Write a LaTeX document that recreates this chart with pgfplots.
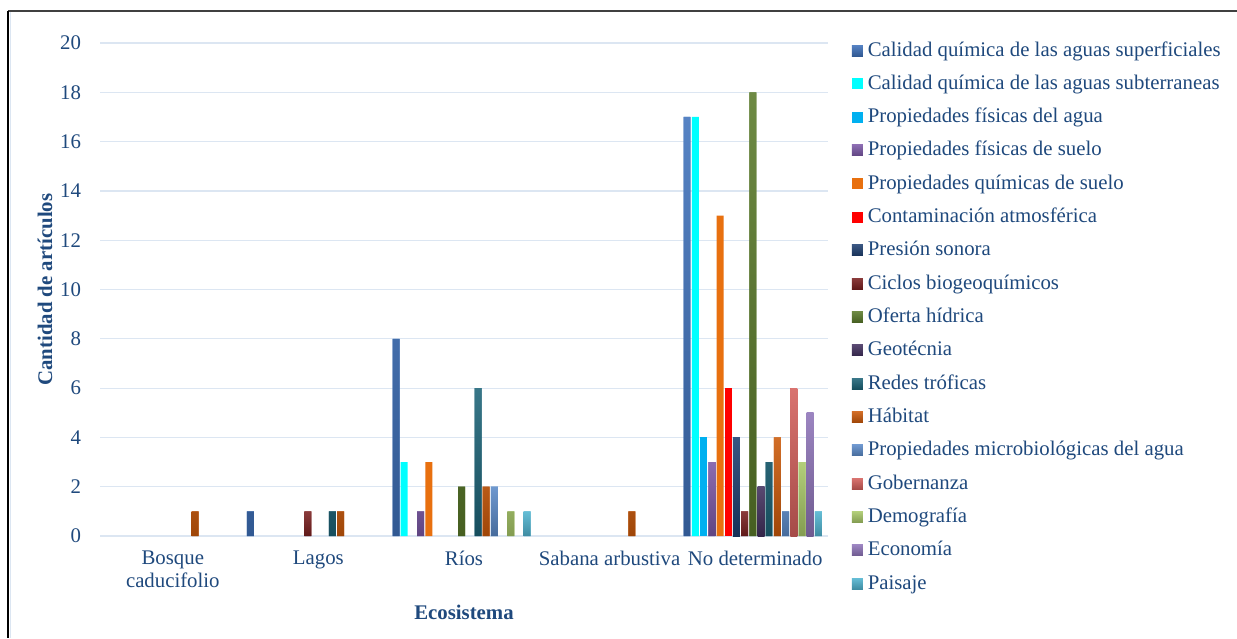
\documentclass[border=0pt]{standalone}
\usepackage{fontspec}
\setmainfont{Liberation Serif}
\usepackage{pgfplots}
\pgfplotsset{compat=1.18}

\definecolor{txt}{HTML}{1F497D}
\definecolor{gridc}{HTML}{DCE6F2}
\definecolor{c1}{HTML}{3F72BC}
\definecolor{c2}{HTML}{00FFFF}
\definecolor{c3}{HTML}{00B0F0}
\definecolor{c4}{HTML}{7B58A6}
\definecolor{c5}{HTML}{E8700F}
\definecolor{c6}{HTML}{FF0000}
\definecolor{c7}{HTML}{1E3F70}
\definecolor{c8}{HTML}{7A2020}
\definecolor{c9}{HTML}{5A7A2A}
\definecolor{c10}{HTML}{42305E}
\definecolor{c11}{HTML}{1D6478}
\definecolor{c12}{HTML}{CC5A0A}
\definecolor{c13}{HTML}{5B8AC8}
\definecolor{c14}{HTML}{D4605C}
\definecolor{c15}{HTML}{A8C868}
\definecolor{c16}{HTML}{8E74B8}
\definecolor{c17}{HTML}{50B4D0}

% flat bar and gradient bar (lighter top, darker bottom)
\pgfplotsset{
  flat/.style={fill=#1, draw=none},
  grad/.style={fill=#1, draw=none, top color=#1!88!white, bottom color=#1!78!black},
}

\begin{document}
\begin{tikzpicture}[font=\fontsize{10.4}{11.5}\selectfont]
\useasboundingbox (0,0) rectangle (618.5pt,319pt);
\fill[white] (0,0) rectangle (618.5pt,319pt);
% outer frame
\draw[line width=1pt, black!75] (4pt,313.5pt) -- (618.5pt,313.5pt);
\draw[line width=1pt, black] (4pt,313.5pt) -- (4pt,0);
\draw[line width=0.6pt, gridc] (5.2pt,313pt) -- (5.2pt,0);

\begin{axis}[
  at={(50pt,51pt)}, anchor=south west,
  scale only axis, width=364pt, height=246.5pt,
  ybar=0.6pt, bar width=3.5pt,
  every axis plot/.append style={xshift=-1.2pt},
  xmin=-0.5, xmax=4.5, ymin=0, ymax=20,
  xtick={0,1,2,3,4},
  xticklabels={{Bosque\\caducifolio},Lagos,Ríos,Sabana arbustiva,No determinado},
  ytick={0,2,...,20},
  axis line style={draw=none},
  major tick length=0pt,
  ymajorgrids, grid style={gridc, line width=0.6pt},
  tick label style={text=txt},
  /pgf/number format/assume math mode=true,
  xticklabel style={align=center, yshift=-4pt},
  yticklabel style={xshift=-6pt},
  every axis x label/.style={at={(axis description cs:0.5,0)}, anchor=north, yshift=-31pt},
  every axis y label/.style={at={(axis description cs:-0.0755,0.5)}, rotate=90, anchor=center},
  xlabel={\textbf{Ecosistema}}, ylabel={\textbf{Cantidad de artículos}},
  label style={text=txt},
  legend cell align=left,
  legend image code/.code={\fill[#1] (0pt,-2.75pt) rectangle (5.5pt,2.75pt);},
  legend style={at={(1,1)}, anchor=north west, xshift=11.7pt, yshift=1.7pt,
    draw=none, fill=none, inner sep=0pt, row sep=6.16pt, column sep=0pt,
    text=txt,
    nodes={inner xsep=2.5pt, inner ysep=0pt, text height=8pt, text depth=2.5pt}},
]
\addplot[grad=c1]  coordinates {(1,1) (2,8) (4,17)};
\addplot[flat=c2]  coordinates {(2,3) (4,17)};
\addplot[flat=c3]  coordinates {(4,4)};
\addplot[grad=c4]  coordinates {(2,1) (4,3)};
\addplot[flat=c5]  coordinates {(2,3) (4,13)};
\addplot[flat=c6]  coordinates {(4,6)};
\addplot[grad=c7]  coordinates {(4,4)};
\addplot[grad=c8]  coordinates {(1,1) (4,1)};
\addplot[grad=c9]  coordinates {(2,2) (4,18)};
\addplot[grad=c10] coordinates {(4,2)};
\addplot[grad=c11] coordinates {(1,1) (2,6) (4,3)};
\addplot[grad=c12] coordinates {(0,1) (1,1) (2,2) (3,1) (4,4)};
\addplot[grad=c13] coordinates {(2,2) (4,1)};
\addplot[grad=c14] coordinates {(4,6)};
\addplot[grad=c15] coordinates {(2,1) (4,3)};
\addplot[grad=c16] coordinates {(4,5)};
\addplot[grad=c17] coordinates {(2,1) (4,1)};
\legend{Calidad química de las aguas superficiales,
  Calidad química de las aguas subterraneas,
  Propiedades físicas del agua,
  Propiedades físicas de suelo,
  Propiedades químicas de suelo,
  Contaminación atmosférica,
  Presión sonora,
  Ciclos biogeoquímicos,
  Oferta hídrica,
  Geotécnia,
  Redes tróficas,
  Hábitat,
  Propiedades microbiológicas del agua,
  Gobernanza,
  Demografía,
  Economía,
  Paisaje}
\end{axis}
\end{tikzpicture}
\end{document}
